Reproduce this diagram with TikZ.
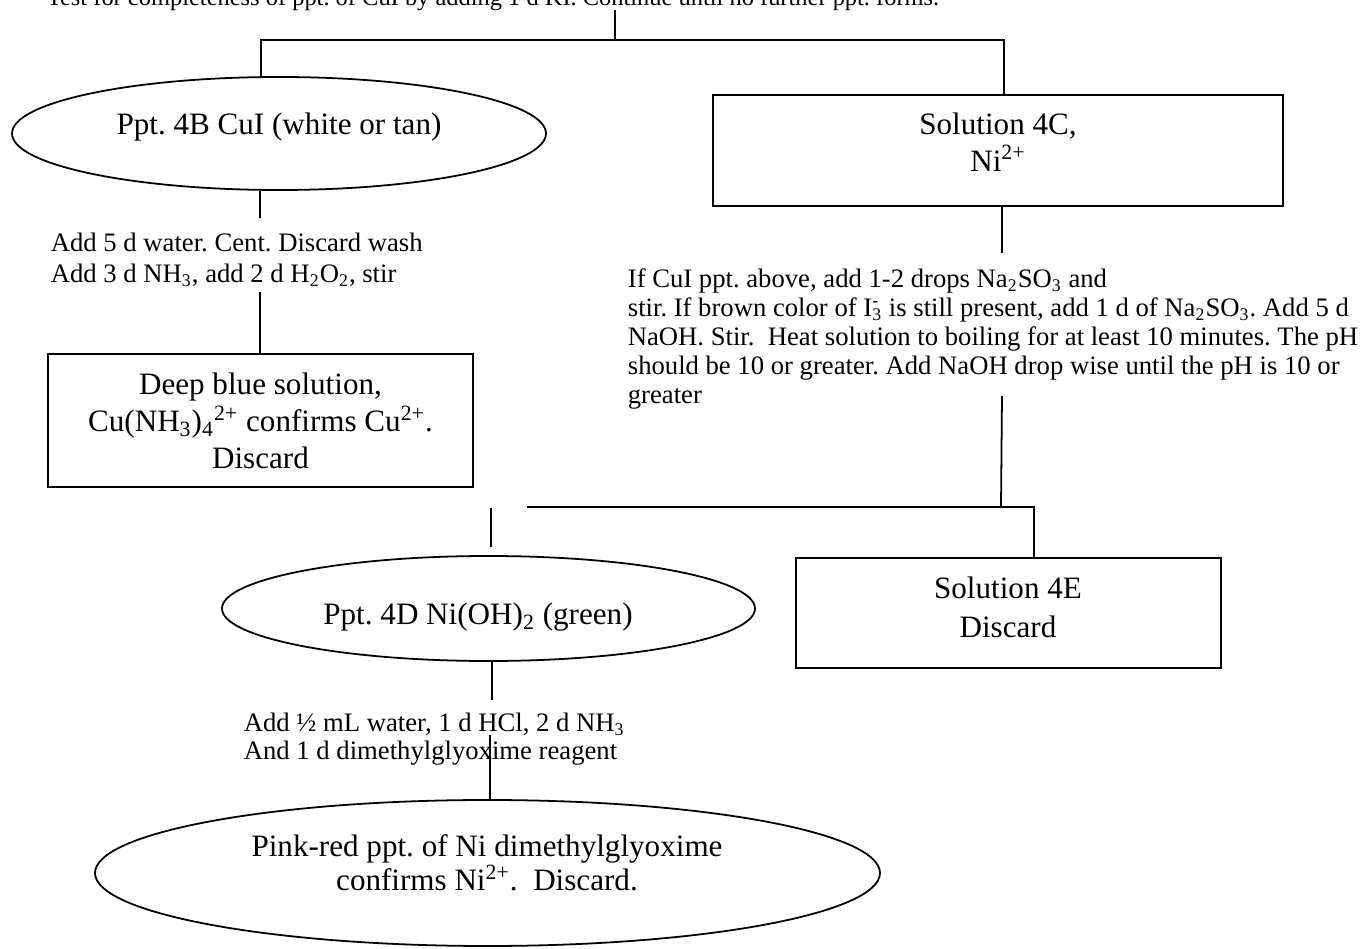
\documentclass[tikz,border=0pt]{standalone}
\usepackage{fontspec}
\setmainfont{Liberation Serif}
\usetikzlibrary{shapes.geometric}
\frenchspacing
\begin{document}
\begin{tikzpicture}[x=0.45pt,y=-0.45pt,line width=0.8pt,
  oval/.style={draw,ellipse,inner sep=0pt},
  boxnode/.style={draw,rectangle,inner sep=0pt},
  bigtxt/.style={font=\fontsize{14}{16.5}\selectfont,align=center,inner sep=0pt},
  smalltxt/.style={font=\fontsize{12}{14.2}\selectfont,align=left,inner sep=0pt}]
\useasboundingbox (0,0) rectangle (1361,949);

% top text (cut off)
\node[smalltxt,font=\fontsize{11}{13}\selectfont,anchor=base west] (top) at (46,6) {Test for completeness of ppt. of CuI by adding 1 d KI. Continue until no further ppt. forms.};

% shapes
\node[oval,minimum width=240.3pt,minimum height=50.85pt] (b4) at (279,133.5) {};
\node[bigtxt] (b4t) at (279,127) {Ppt. 4B CuI (white or tan)};

\node[boxnode,minimum width=256.5pt,minimum height=49.95pt] (c4) at (998,150.5) {};
\node[bigtxt] (c4t) at (998,142) {Solution 4C,\\Ni\textsuperscript{2+}};

\node[boxnode,minimum width=191.25pt,minimum height=59.85pt] (db) at (260.5,420.5) {};
\node[bigtxt] (dbt) at (260.5,421) {Deep blue solution,\\ Cu(NH\textsubscript{3})\textsubscript{4}\textsuperscript{2+} confirms Cu\textsuperscript{2+}.\\Discard};

\node[oval,minimum width=239.85pt,minimum height=47.25pt] (d4) at (488.5,608.5) {};
\node[bigtxt] (d4t) at (478,617) {Ppt. 4D Ni(OH)\textsubscript{2} (green)};

\node[boxnode,minimum width=191.25pt,minimum height=49.5pt] (e4) at (1008.5,613) {};
\node[bigtxt,font=\fontsize{14}{17.5}\selectfont] (e4t) at (1008,607) {Solution 4E\\Discard};

\node[oval,minimum width=353.25pt,minimum height=65.7pt] (pk) at (487.5,873) {};
\node[bigtxt,font=\fontsize{14}{15.5}\selectfont] (pkt) at (487,863) {Pink-red ppt. of Ni dimethylglyoxime\\confirms Ni\textsuperscript{2+}.\ \ Discard.};

% step texts
\node[smalltxt,anchor=north west] (ltxt) at (50,232) {Add 5 d water. Cent. Discard wash\\Add 3 d NH\textsubscript{3}, add 2 d H\textsubscript{2}O\textsubscript{2}, stir};

\node[smalltxt,font=\fontsize{12}{13}\selectfont,anchor=north west] (rtxt) at (627,268) {If CuI ppt. above, add 1-2 drops Na\textsubscript{2}SO\textsubscript{3} and\\
stir. If brown color of I\rlap{\textsuperscript{-}}\textsubscript{3} is still present, add 1 d of Na\textsubscript{2}SO\textsubscript{3}. Add 5 d\\
NaOH. Stir.\ \ Heat solution to boiling for at least 10 minutes. The pH\\
should be 10 or greater. Add NaOH drop wise until the pH is 10 or\\
greater};

\node[smalltxt,font=\fontsize{12}{12.5}\selectfont,anchor=north west] (btxt) at (243,712) {Add \textonehalf{} mL water, 1 d HCl, 2 d NH\textsubscript{3}\\And 1 d dimethylglyoxime reagent};

% connector points
\coordinate (t0) at (615,10);
\coordinate (jt) at (615,40);
\coordinate (jl) at (261,40);
\coordinate (jr) at (1004,40);
\coordinate (l1) at (260,218);
\coordinate (l2) at (260,292);
\coordinate (r1) at (1002,253);
\coordinate (r2) at (1002,396);
\coordinate (r3) at (1001,507);
\coordinate (h1) at (527,507);
\coordinate (h2) at (1034,507);
\coordinate (s1) at (491,508);
\coordinate (s2) at (491,547);
\coordinate (d1) at (492,700);
\coordinate (d2) at (490,735);

% connectors
\draw (t0) -- (jt);
\draw (jl |- b4.north) -- (jl) -- (jr) -- (jr |- c4.north);
\draw (l1 |- b4.south) -- (l1);
\draw (l2) -- (l2 |- db.north);
\draw (r1 |- c4.south) -- (r1);
\draw (r2) -- (r3);
\draw (h1) -- (h2) -- (h2 |- e4.north);
\draw (s1) -- (s2);
\draw (d1 |- d4.south) -- (d1);
\draw (d2) -- (d2 |- pk.north);
\end{tikzpicture}
\end{document}
